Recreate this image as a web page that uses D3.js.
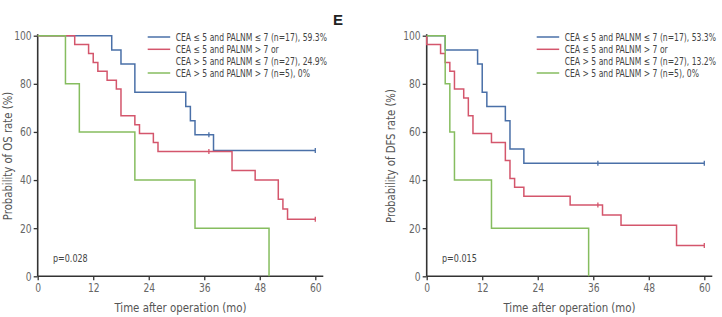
<!DOCTYPE html>
<html>
<head>
<meta charset="utf-8">
<script src="https://cdn.jsdelivr.net/npm/d3@7"></script>
<style>
  body { margin: 0; background: #fff; }
  svg { display: block; }
  text { font-family: "Liberation Sans Narrow", "DejaVu Sans Condensed", "Arial Narrow", sans-serif; font-stretch: condensed; }
</style>
</head>
<body>
<svg id="chart" width="722" height="317"></svg>
<script>
// ---------- DATA ----------
const xTicks = [0, 12, 24, 36, 48, 60];
const yTicks = [0, 20, 40, 60, 80, 100];

const legendOS = [
  ["CEA \u2264 5 and PALNM \u2264 7 (n=17), 59.3%"],
  ["CEA \u2264 5 and PALNM > 7 or", "CEA > 5 and PALNM \u2264 7 (n=27), 24.9%"],
  ["CEA > 5 and PALNM > 7 (n=5), 0%"]
];
const legendDFS = [
  ["CEA \u2264 5 and PALNM \u2264 7 (n=17), 53.3%"],
  ["CEA \u2264 5 and PALNM > 7 or", "CEA > 5 and PALNM \u2264 7 (n=27), 13.2%"],
  ["CEA > 5 and PALNM > 7 (n=5), 0%"]
];

// OS curves: [time (mo), survival (%)]
const osBlue  = [[0,100],[16,94.1],[18,88.2],[21,76.5],[32,70.6],[33,64.7],[34,58.8],[38,52.3],[60,52.3]];
const osRed   = [[0,100],[8,96.3],[11,92.6],[12,88.9],[13,85.2],[15,81.5],[17,77.8],[18,66.7],[21,63.0],[22,59.3],[25,55.6],[26,51.9],[42,44.0],[47,40.0],[52,32.0],[53,28.0],[54,23.7],[60,23.7]];
const osGreen = [[0,100],[6,80],[9,60],[21,40],[34,20],[50,0]];
const osBlueCens = [[37,58.8],[60,52.3]];
const osRedCens  = [[37,51.9],[60,23.7]];

// DFS curves
const dfsBlue  = [[0,100],[4,94.1],[11,88.2],[12,76.5],[13,70.6],[17,64.7],[18,52.9],[21,47.0],[60,47.0]];
const dfsRed   = [[0,100],[0,96.3],[3,92.6],[4,88.9],[5,85.2],[6,77.8],[8,74.1],[9,66.7],[10,59.3],[14,55.6],[17,48.1],[18,40.7],[19,37.0],[21,33.3],[31,29.6],[38,25.5],[42,21.2],[54,12.8],[60,12.8]];
const dfsGreen = [[0,100],[4,80],[5,60],[6,40],[14,20],[35,0]];
const dfsBlueCens = [[37,47.0],[60,47.0]];
const dfsRedCens  = [[37,29.6],[60,12.8]];

const colors = ["#4a70a8", "#d4566c", "#86bd5f"];

// ---------- DRAW ----------
const svg = d3.select("#chart");

// horizontally condense text about its own anchor point (emulates a narrow font)
function condense(sel, k) {
  sel.each(function() {
    const t = d3.select(this);
    const x = +t.attr("x") || 0, y = +t.attr("y") || 0;
    const prev = t.attr("transform") || "";
    t.attr("transform", `${prev} translate(${x},${y}) scale(${k},1) translate(${-x},${-y})`);
  });
  return sel;
}

function panel(opts) {
  const x = d3.scaleLinear().domain([0, 60]).range([opts.x0, opts.x0 + 277.6]);
  const y = d3.scaleLinear().domain([0, 100]).range([276.3, 35.7]);
  const g = svg.append("g");
  const axisCol = "#333";
  const tickCol = "#666";

  // axes lines
  g.append("line").attr("x1", x(0)).attr("x2", x(60) + 8).attr("y1", y(0)).attr("y2", y(0))
    .attr("stroke", axisCol).attr("stroke-width", 1.6);
  g.append("line").attr("x1", x(0)).attr("x2", x(0)).attr("y1", y(0)).attr("y2", y(100) - 1.5)
    .attr("stroke", axisCol).attr("stroke-width", 1.6);

  const xa = g.append("g").attr("transform", `translate(0,${y(0)})`)
    .call(d3.axisBottom(x).tickValues(xTicks).tickSize(4).tickSizeOuter(0).tickPadding(3));
  xa.select(".domain").remove();
  xa.selectAll("line").attr("stroke", axisCol).attr("stroke-width", 1.3);
  condense(xa.selectAll("text").attr("fill", tickCol).style("font-size", "12px"), 0.85);

  const ya = g.append("g").attr("transform", `translate(${x(0)},0)`)
    .call(d3.axisLeft(y).tickValues(yTicks).tickSize(4).tickSizeOuter(0).tickPadding(2));
  ya.select(".domain").remove();
  ya.selectAll("line").attr("stroke", axisCol).attr("stroke-width", 1.3);
  condense(ya.selectAll("text").attr("fill", tickCol).style("font-size", "12px"), 0.85);

  // titles
  condense(g.append("text").attr("x", (x(0) + x(60) + 8) / 2).attr("y", 312)
    .attr("text-anchor", "middle").attr("fill", "#555").style("font-size", "12.5px")
    .text("Time after operation (mo)"), 0.91);
  g.append("text").attr("transform", `translate(${opts.ylabX},156) rotate(-90) scale(0.9,1)`)
    .attr("text-anchor", "middle").attr("dominant-baseline", "middle")
    .attr("fill", "#555").style("font-size", "12.5px")
    .text(opts.ylab);

  // p-value
  condense(g.append("text").attr("x", x(3.3)).attr("y", 262).attr("fill", "#444")
    .style("font-size", "10.5px").text(opts.p), 0.85);

  // curves
  const line = d3.line().x(d => x(d[0])).y(d => y(d[1])).curve(d3.curveStepAfter);
  opts.curves.forEach((c, i) => {
    g.append("path").datum(c).attr("d", line).attr("fill", "none")
      .attr("stroke", colors[i]).attr("stroke-width", 1.5);
  });
  opts.cens.forEach((c, i) => {
    g.selectAll(null).data(c).enter().append("line")
      .attr("x1", d => x(d[0])).attr("x2", d => x(d[0]))
      .attr("y1", d => y(d[1]) - 2.5).attr("y2", d => y(d[1]) + 2.5)
      .attr("stroke", colors[i]).attr("stroke-width", 1.3);
  });

  // legend
  const rowY = [37, 49.3, 61.3, 73];
  let r = 0;
  opts.legend.forEach((lines, i) => {
    g.append("line").attr("x1", opts.legX).attr("x2", opts.legX + 22.5)
      .attr("y1", rowY[r]).attr("y2", rowY[r]).attr("stroke", colors[i]).attr("stroke-width", 1.5);
    lines.forEach(t => {
      condense(g.append("text").attr("x", opts.legX + 28).attr("y", rowY[r]).attr("dy", "0.35em")
        .attr("fill", "#444").style("font-size", "10.5px").text(t), 0.81);
      r++;
    });
  });
}

panel({
  x0: 37.7, ylabX: 8, ylab: "Probability of OS rate (%)", p: "p=0.028",
  curves: [osBlue, osRed, osGreen], cens: [osBlueCens, osRedCens],
  legend: legendOS, legX: 147.7
});
panel({
  x0: 426.7, ylabX: 391.5, ylab: "Probability of DFS rate (%)", p: "p=0.015",
  curves: [dfsBlue, dfsRed, dfsGreen], cens: [dfsBlueCens, dfsRedCens],
  legend: legendDFS, legX: 536.7
});

svg.append("text").attr("x", 338).attr("y", 25).attr("text-anchor", "middle")
  .attr("fill", "#222").style("font-size", "15px").style("font-weight", "bold")
  .style("font-family", "'Liberation Sans', Arial, sans-serif").text("E");
</script>
</body>
</html>
